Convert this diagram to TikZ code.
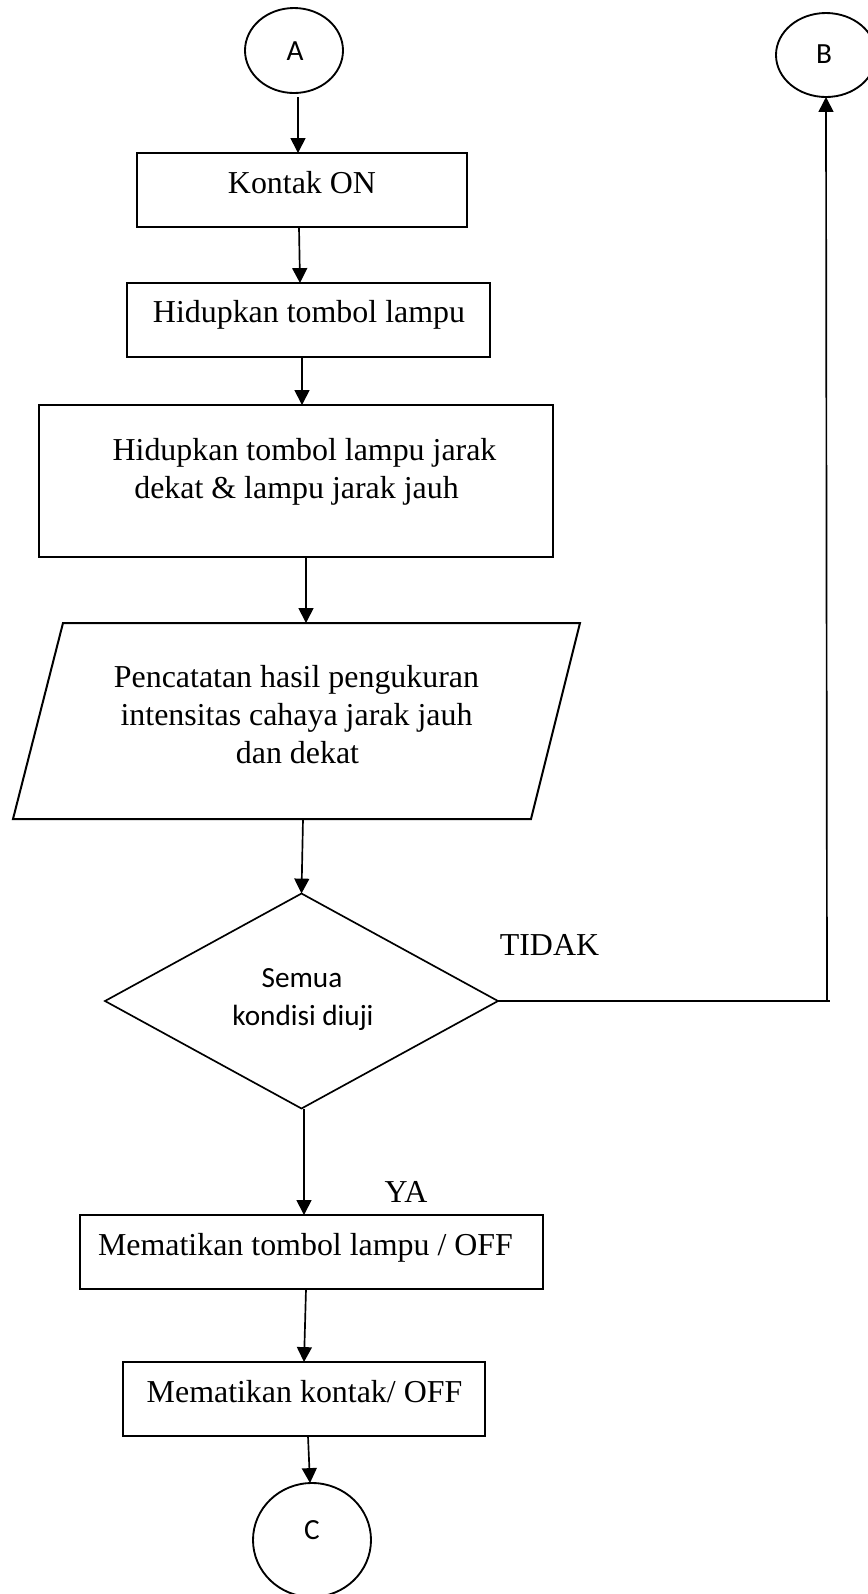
\documentclass[tikz,border=0pt]{standalone}
\usepackage{fontspec}
\setmainfont{Liberation Serif}
\newfontfamily\calibrifont{Carlito}
\usetikzlibrary{shapes.geometric,arrows.meta,calc}

% one drawing unit = one pixel of the layout grid
\def\px{0.376pt}

\begin{document}
\begin{tikzpicture}[x=0.376pt,y=-0.376pt,
  box/.style={draw,rectangle,line width=0.75pt,inner sep=0pt,outer sep=0pt},
  conn/.style={draw,ellipse,line width=0.7pt,inner sep=0pt,outer sep=0pt},
  txt/.style={inner sep=0pt,anchor=base,font=\fontsize{12}{14}\selectfont},
  stxt/.style={inner sep=0pt,anchor=base,font=\calibrifont\fontsize{11}{13}\selectfont},
  flow/.style={line width=0.63pt,-{Triangle[length=5.6pt,width=5.6pt]}},
]
\clip (0,0) rectangle (868,1594);
\fill[white] (0,0) rectangle (868,1594);

% connectors (off-page references)
\node[conn,minimum width=98*\px,minimum height=85*\px] (A) at (294,50.5) {};
\node[conn,minimum width=100*\px,minimum height=84*\px] (B) at (826,55) {};
\node[conn,minimum width=118*\px,minimum height=114*\px] (C) at (312,1540) {};
\node[stxt] (tA) at (295,60) {A};
\node[stxt] (tB) at (824,63) {B};
\node[stxt] (tC) at (312,1539) {C};

% process boxes
\node[box,minimum width=330*\px,minimum height=74*\px] (kontak) at (302,190) {};
\node[box,minimum width=363*\px,minimum height=74*\px] (hidup) at (308.5,320) {};
\node[box,minimum width=514*\px,minimum height=152*\px] (big) at (296,481) {};
% data record: a slanted parallelogram inside the frame of node para
\node[rectangle,inner sep=0pt,outer sep=0pt,minimum width=567*\px,minimum height=196*\px] (para) at (296.5,721) {};
\draw[line width=0.75pt,line join=miter]
  ($(para.north west)+(50,0)$) -- (para.north east)
  -- ($(para.south east)+(-49,0)$) -- (para.south west) -- cycle;
\node[draw,diamond,minimum width=393*\px,minimum height=215*\px,
      inner sep=0pt,outer sep=0pt,line width=0.63pt] (dia) at (301.5,1001) {};
\node[box,minimum width=463*\px,minimum height=74*\px] (off1) at (311.5,1252) {};
\node[box,minimum width=362*\px,minimum height=74*\px] (off2) at (304,1399) {};

% texts
\node[txt] (tKontak) at (302,193) {Kontak ON};
\node[txt] (tHidup) at (309,322) {Hidupkan tombol lampu};
\node[txt] (tBig1) at (304.5,460) {Hidupkan tombol lampu jarak};
\node[txt] (tBig2) at (296.5,498) {dekat \& lampu jarak jauh};
\node[txt] (tPara1) at (296.5,687) {Pencatatan hasil pengukuran};
\node[txt] (tPara2) at (296.5,725) {intensitas cahaya jarak jauh};
\node[txt] (tPara3) at (297.5,763) {dan dekat};
\node[stxt] (tDia1) at (302,987) {Semua};
\node[stxt] (tDia2) at (303,1025) {kondisi diuji};
\node[txt] (tTidak) at (549.5,955) {TIDAK};
\node[txt] (tYa) at (406,1202) {YA};
\node[txt] (tOff1) at (305.5,1255) {Mematikan tombol lampu / OFF};
\node[txt] (tOff2) at (304.5,1402) {Mematikan kontak/ OFF};

% flow lines
\draw[flow] ($(A.south)+(4,4)$) -- ($(kontak.north)+(-4,0)$);
\draw[flow] ($(kontak.south)+(-3,0)$) -- ($(hidup.north)+(-8.5,0)$);
\draw[flow] ($(hidup.south)+(-6.5,0)$) -- ($(big.north)+(6,0)$);
\draw[flow] ($(big.south)+(10,0)$) -- ($(para.north)+(9.5,0)$);
\draw[flow] ($(para.south)+(6.5,0)$) -- (dia.north);
\draw[flow] ($(dia.south)+(2.5,0)$) -- ($(off1.north)+(-7.5,0)$);
\draw[flow] ($(off1.south)+(-5.5,0)$) -- (off2.north);
\draw[flow] ($(off2.south)+(4,0)$) -- ($(C.north)+(-2,0)$);

% TIDAK branch back to B
\coordinate (turn) at (827,1001);
\draw[line width=0.45pt] (dia.east) -- ($(turn)+(3,0)$);
\draw[flow] (turn) -- (B.south);
\end{tikzpicture}
\end{document}
